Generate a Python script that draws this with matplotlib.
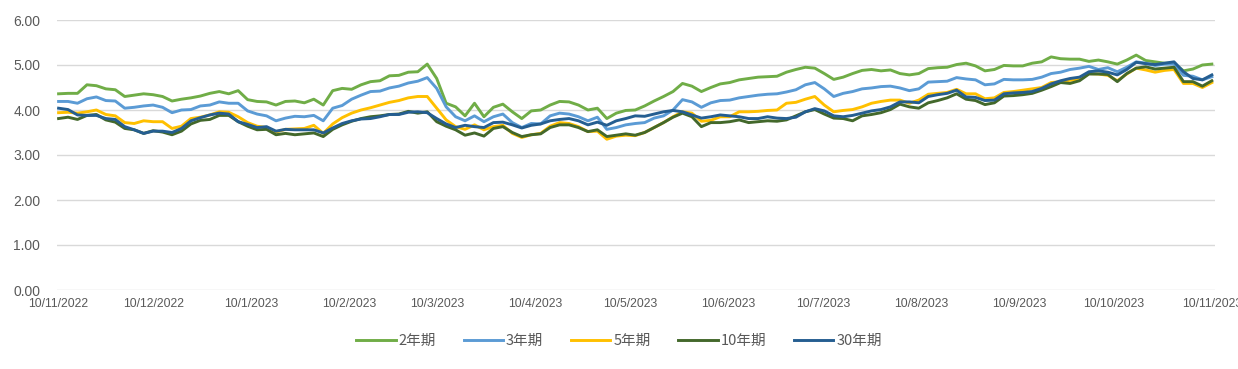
"""
China government bond yield curve points, Nov 2022 - Nov 2023
Excel-style line chart
"""

import pandas as pd
import matplotlib
matplotlib.use("Agg")
import matplotlib.pyplot as plt

# ── Data (one sample about every 3 days) ─────────────────────────────────────
START = "2022-11-10"
END   = "2023-11-10"

Y2 = [4.36, 4.37, 4.37, 4.56, 4.54, 4.47, 4.45, 4.30, 4.33, 4.36, 4.34, 4.30, 4.20, 4.24, 4.27, 4.31,
      4.37, 4.41, 4.36, 4.43, 4.23, 4.19, 4.18, 4.11, 4.19, 4.20, 4.16, 4.24, 4.11, 4.43, 4.48,
      4.46, 4.56, 4.63, 4.65, 4.76, 4.77, 4.84, 4.85, 5.02, 4.70, 4.15, 4.07, 3.87, 4.15, 3.85,
      4.06, 4.13, 3.96, 3.81, 3.98, 4.00, 4.11, 4.19, 4.18, 4.11, 4.00, 4.04, 3.81, 3.93, 3.99, 4.00,
      4.09, 4.20, 4.30, 4.41, 4.59, 4.53, 4.41, 4.50, 4.58, 4.61, 4.67, 4.70, 4.73, 4.74, 4.75,
      4.84, 4.90, 4.95, 4.93, 4.81, 4.68, 4.73, 4.81, 4.88, 4.90, 4.87, 4.89, 4.81, 4.78, 4.81,
      4.92, 4.94, 4.95, 5.01, 5.04, 4.98, 4.87, 4.90, 4.99, 4.98, 4.98, 5.04, 5.07, 5.18, 5.14,
      5.13, 5.13, 5.08, 5.11, 5.07, 5.02, 5.11, 5.22, 5.10, 5.07, 5.04, 5.04, 4.87, 4.91, 5.00, 5.02]

Y3 = [4.19, 4.19, 4.15, 4.25, 4.29, 4.21, 4.20, 4.04, 4.06, 4.09, 4.11, 4.06, 3.94, 4.00, 4.01, 4.09,
      4.11, 4.18, 4.15, 4.15, 3.98, 3.91, 3.87, 3.76, 3.82, 3.86, 3.85, 3.88, 3.76, 4.04, 4.10,
      4.24, 4.33, 4.41, 4.42, 4.49, 4.53, 4.60, 4.64, 4.72, 4.48, 4.07, 3.85, 3.76, 3.87, 3.74,
      3.85, 3.91, 3.72, 3.61, 3.70, 3.69, 3.87, 3.93, 3.91, 3.85, 3.76, 3.84, 3.57, 3.61, 3.67, 3.70,
      3.72, 3.82, 3.87, 4.00, 4.23, 4.18, 4.06, 4.16, 4.21, 4.22, 4.27, 4.30, 4.33, 4.35, 4.36,
      4.40, 4.45, 4.56, 4.61, 4.47, 4.30, 4.37, 4.41, 4.47, 4.49, 4.52, 4.53, 4.49, 4.43, 4.47,
      4.62, 4.63, 4.64, 4.72, 4.69, 4.67, 4.56, 4.58, 4.68, 4.67, 4.67, 4.68, 4.73, 4.81, 4.84,
      4.90, 4.93, 4.97, 4.90, 4.94, 4.85, 4.95, 5.07, 5.04, 4.99, 5.02, 5.02, 4.77, 4.75, 4.67, 4.74]

Y5 = [3.94, 3.95, 3.93, 3.96, 4.00, 3.90, 3.87, 3.72, 3.70, 3.76, 3.74, 3.74, 3.59, 3.64, 3.81, 3.84,
      3.89, 3.96, 3.95, 3.85, 3.72, 3.64, 3.61, 3.51, 3.57, 3.58, 3.59, 3.66, 3.48, 3.69, 3.83,
      3.93, 4.00, 4.05, 4.11, 4.17, 4.21, 4.27, 4.30, 4.30, 4.04, 3.78, 3.63, 3.57, 3.67, 3.56,
      3.63, 3.66, 3.48, 3.39, 3.45, 3.48, 3.64, 3.72, 3.70, 3.63, 3.52, 3.53, 3.35, 3.42, 3.44, 3.43,
      3.50, 3.61, 3.72, 3.85, 3.96, 3.93, 3.75, 3.77, 3.85, 3.85, 3.96, 3.96, 3.97, 3.99, 4.00,
      4.15, 4.17, 4.24, 4.30, 4.11, 3.96, 3.99, 4.01, 4.07, 4.15, 4.19, 4.22, 4.22, 4.15, 4.22,
      4.35, 4.37, 4.39, 4.46, 4.36, 4.36, 4.25, 4.27, 4.39, 4.41, 4.44, 4.47, 4.50, 4.61, 4.63,
      4.66, 4.68, 4.81, 4.80, 4.77, 4.65, 4.80, 4.93, 4.89, 4.84, 4.88, 4.90, 4.59, 4.59, 4.50, 4.61]

Y10 = [3.81, 3.84, 3.79, 3.88, 3.90, 3.78, 3.73, 3.59, 3.56, 3.48, 3.54, 3.51, 3.45, 3.53, 3.69, 3.77,
       3.79, 3.88, 3.88, 3.74, 3.64, 3.56, 3.57, 3.45, 3.48, 3.45, 3.47, 3.49, 3.41, 3.57, 3.67,
       3.75, 3.81, 3.85, 3.87, 3.90, 3.91, 3.97, 3.93, 3.96, 3.74, 3.64, 3.56, 3.44, 3.49, 3.42,
       3.59, 3.63, 3.50, 3.41, 3.45, 3.47, 3.61, 3.67, 3.67, 3.61, 3.52, 3.56, 3.41, 3.44, 3.47, 3.44,
       3.50, 3.61, 3.72, 3.84, 3.93, 3.85, 3.63, 3.72, 3.72, 3.74, 3.78, 3.72, 3.74, 3.76, 3.75,
       3.78, 3.87, 3.96, 4.01, 3.91, 3.82, 3.81, 3.76, 3.87, 3.90, 3.94, 4.01, 4.13, 4.07, 4.04,
       4.16, 4.21, 4.27, 4.36, 4.24, 4.21, 4.12, 4.16, 4.31, 4.32, 4.34, 4.37, 4.44, 4.52, 4.61,
       4.59, 4.65, 4.80, 4.80, 4.79, 4.63, 4.81, 4.93, 4.96, 4.91, 4.93, 4.95, 4.63, 4.63, 4.53, 4.65]

Y30 = [4.04, 4.01, 3.89, 3.88, 3.88, 3.81, 3.79, 3.63, 3.56, 3.48, 3.53, 3.53, 3.50, 3.59, 3.76, 3.83,
       3.89, 3.93, 3.91, 3.74, 3.68, 3.61, 3.63, 3.53, 3.57, 3.56, 3.56, 3.56, 3.49, 3.60, 3.70,
       3.76, 3.80, 3.81, 3.85, 3.90, 3.90, 3.95, 3.96, 3.94, 3.81, 3.69, 3.61, 3.66, 3.63, 3.61,
       3.72, 3.73, 3.67, 3.60, 3.66, 3.69, 3.76, 3.79, 3.81, 3.76, 3.67, 3.73, 3.66, 3.76, 3.81, 3.87,
       3.86, 3.91, 3.96, 3.99, 3.96, 3.89, 3.82, 3.85, 3.89, 3.87, 3.85, 3.81, 3.81, 3.85, 3.82,
       3.81, 3.84, 3.96, 4.03, 3.98, 3.87, 3.85, 3.88, 3.93, 3.98, 4.01, 4.07, 4.18, 4.18, 4.16,
       4.30, 4.34, 4.37, 4.44, 4.29, 4.28, 4.21, 4.22, 4.36, 4.38, 4.39, 4.41, 4.48, 4.58, 4.65,
       4.70, 4.73, 4.85, 4.87, 4.84, 4.78, 4.90, 5.06, 5.03, 5.01, 5.04, 5.07, 4.85, 4.70, 4.67, 4.78]

SERIES_NAMES = ["2年期", "3年期", "5年期", "10年期", "30年期"]
SERIES_COLORS = ["#70AD47", "#5B9BD5", "#FFC000", "#43682B", "#255E91"]

TICK_DATES = ["2022-11-10", "2022-12-10", "2023-01-10", "2023-02-10", "2023-03-10",
              "2023-04-10", "2023-05-10", "2023-06-10", "2023-07-10", "2023-08-10",
              "2023-09-10", "2023-10-10", "2023-11-10"]
TICK_LABELS = ["10/11/2022", "10/12/2022", "10/1/2023", "10/2/2023", "10/3/2023",
               "10/4/2023", "10/5/2023", "10/6/2023", "10/7/2023", "10/8/2023",
               "10/9/2023", "10/10/2023", "10/11/2023"]
Y_TICKS = [0, 1, 2, 3, 4, 5, 6]

TEXT_COLOR = "#595959"
GRID_COLOR = "#D9D9D9"


def main():
    dates = pd.date_range(START, END, periods=len(Y2))
    series = [Y2, Y3, Y5, Y10, Y30]

    fig = plt.figure(figsize=(12.38, 3.69), dpi=100)
    ax = fig.add_axes([57 / 1238, 1 - 290 / 369, (1215 - 57) / 1238, (290 - 20) / 369])

    for name, vals, color in zip(SERIES_NAMES, series, SERIES_COLORS):
        ax.plot(dates, vals, color=color, linewidth=2.1, label=name,
                solid_joinstyle="round")

    ax.set_ylim(0, 6)
    ax.set_yticks(Y_TICKS)
    ax.set_yticklabels([f"{v:.2f}" for v in Y_TICKS],
                       fontsize=10, color=TEXT_COLOR, family="Liberation Sans")
    ax.set_xlim(pd.Timestamp(START) - pd.Timedelta(days=0.5),
                pd.Timestamp(END) + pd.Timedelta(days=1))
    ax.set_xticks(pd.to_datetime(TICK_DATES))
    ax.set_xticklabels(TICK_LABELS, fontsize=8.8, color=TEXT_COLOR,
                       family="Liberation Sans")

    ax.tick_params(axis="y", length=0, pad=12)
    ax.tick_params(axis="x", length=0, pad=6)
    for s in ax.spines.values():
        s.set_visible(False)
    ax.grid(True, axis="y", color=GRID_COLOR, linewidth=1.0)
    ax.set_axisbelow(True)

    fig.legend(loc="center", bbox_to_anchor=(0.5, 1 - 341 / 369), ncol=5,
               frameon=False, handlelength=2.7, handletextpad=0.2,
               columnspacing=1.9,
               prop={"family": ["Noto Sans CJK SC", "DejaVu Sans"], "size": 10.5},
               labelcolor=TEXT_COLOR)

    fig.savefig("out.png", dpi=100)


if __name__ == "__main__":
    main()
